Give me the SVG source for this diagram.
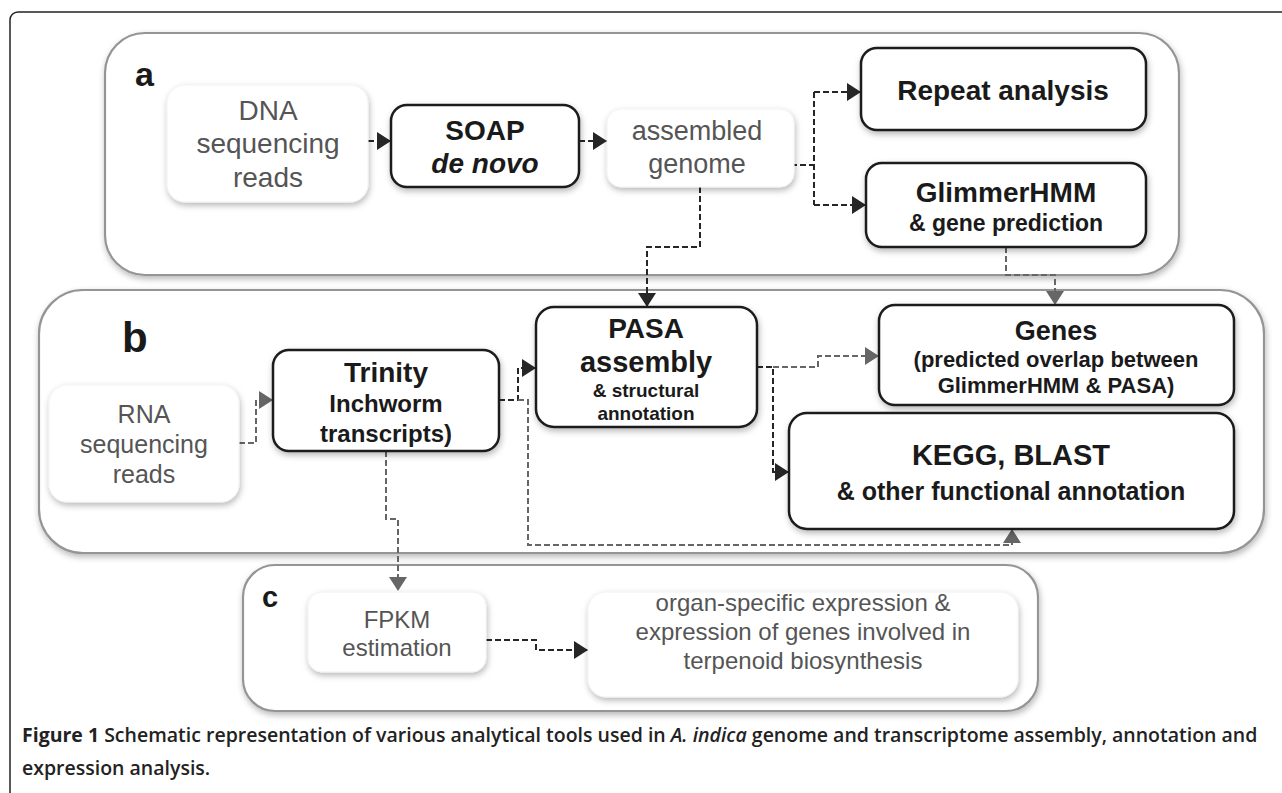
<svg xmlns="http://www.w3.org/2000/svg" width="1282" height="793" viewBox="0 0 1282 793">
  <defs>
    <filter id="shadow" x="-10%" y="-10%" width="130%" height="140%">
      <feDropShadow dx="1" dy="3" stdDeviation="3" flood-color="#000" flood-opacity="0.28"/>
    </filter>
    <marker id="arrowDark" viewBox="0 0 14 18" refX="14" refY="9" markerWidth="14" markerHeight="18" markerUnits="userSpaceOnUse" orient="auto">
      <path d="M0,0 L14,9 L0,18 z" fill="#262626"/>
    </marker>
    <marker id="arrowGray" viewBox="0 0 14 18" refX="14" refY="9" markerWidth="14" markerHeight="18" markerUnits="userSpaceOnUse" orient="auto">
      <path d="M0,0 L14,9 L0,18 z" fill="#666"/>
    </marker>
  </defs>
  <style>
    .frame { fill: #fff; stroke: #222; stroke-width: 1.5; }
    .panel { fill: #fff; stroke: #959595; stroke-width: 2.2; }
    .soft { fill: #fff; stroke: #f2f2f2; stroke-width: 1; }
    .hard { fill: #fff; stroke: #1a1a1a; stroke-width: 2.5; }
    .lt { font-family: "Liberation Sans", Arial, sans-serif; fill: #555; text-anchor: middle; }
    .bt { font-family: "Liberation Sans", Arial, sans-serif; font-weight: bold; fill: #1a1a1a; text-anchor: middle; }
    .lbl { font-family: "Liberation Sans", Arial, sans-serif; font-weight: bold; fill: #1a1a1a; }
    .dk { fill: none; stroke: #262626; stroke-width: 2; stroke-dasharray: 6 3; }
    .gy { fill: none; stroke: #666; stroke-width: 2; stroke-dasharray: 6 3; }
    .cap { font-family: "Open Sans", "Liberation Sans", sans-serif; font-size: 19.5px; font-weight: 600; fill: #222; }
  </style>

  <rect width="1282" height="793" fill="#fff"/>
  <rect class="frame" x="10" y="12" width="1290" height="800" rx="8"/>

  <!-- section panels -->
  <g id="panel-a">
    <rect class="panel" x="105" y="33" width="1074" height="242" rx="40" filter="url(#shadow)"/>
    <text class="lbl" x="135" y="86" font-size="34">a</text>
  </g>
  <g id="panel-b">
    <rect class="panel" x="39" y="290" width="1225" height="263" rx="44" filter="url(#shadow)"/>
    <text class="lbl" x="122" y="352" font-size="42">b</text>
  </g>
  <g id="panel-c">
    <rect class="panel" x="243" y="565" width="795" height="146" rx="32" filter="url(#shadow)"/>
    <text class="lbl" x="262" y="607" font-size="29">c</text>
  </g>

  <!-- connectors -->
  <g id="connectors">
    <path class="dk" d="M368,141 L391,141" marker-end="url(#arrowDark)"/>
    <path class="dk" d="M579,141 L607,141" marker-end="url(#arrowDark)"/>
    <path class="dk" d="M764,165 L814,165 M814,92 L814,205"/>
    <path class="dk" d="M814,92 L861,92" marker-end="url(#arrowDark)"/>
    <path class="dk" d="M814,205 L866,205" marker-end="url(#arrowDark)"/>
    <path class="dk" d="M700,187 L700,247 L647,247 L647,307" marker-end="url(#arrowDark)"/>
    <path class="gy" d="M1006,247 L1006,275 L1055,275 L1055,305" marker-end="url(#arrowGray)"/>
    <path class="gy" d="M239,443 L256,443 L256,400 L273,400" marker-end="url(#arrowGray)"/>
    <path class="dk" d="M499,400 L518,400 L518,368 L536,368" marker-end="url(#arrowDark)"/>
    <path class="gy" d="M518,400 L528,400 L528,545 L1012,545 L1012,529" marker-end="url(#arrowGray)"/>
    <path class="gy" d="M386,451 L386,519 L398,519 L398,591" marker-end="url(#arrowGray)"/>
    <path class="gy" d="M773,367 L818,367 L818,356 L879,356" marker-end="url(#arrowGray)"/>
    <path class="dk" d="M757,367 L773,367 L773,472 L789,472" marker-end="url(#arrowDark)"/>
    <path class="dk" d="M486,640 L536,640 L536,650 L588,650" marker-end="url(#arrowDark)"/>
  </g>

  <!-- section a nodes -->
  <g id="dna-reads">
    <rect class="soft" x="167" y="85" width="201" height="117" rx="18" filter="url(#shadow)"/>
    <text class="lt" font-size="28"><tspan x="268" y="120">DNA</tspan><tspan x="268" y="153">sequencing</tspan><tspan x="268" y="187">reads</tspan></text>
  </g>
  <g id="soap">
    <rect class="hard" x="391" y="105" width="188" height="82" rx="16" filter="url(#shadow)"/>
    <text class="bt" font-size="28"><tspan x="485" y="140">SOAP</tspan><tspan x="485" y="173" font-style="italic">de novo</tspan></text>
  </g>
  <g id="assembled-genome">
    <rect class="soft" x="607" y="109" width="187" height="78" rx="14" filter="url(#shadow)"/>
    <text class="lt" font-size="27"><tspan x="697" y="140">assembled</tspan><tspan x="697" y="173">genome</tspan></text>
  </g>
  <g id="repeat-analysis">
    <rect class="hard" x="861" y="48" width="285" height="82" rx="16" filter="url(#shadow)"/>
    <text class="bt" x="1003" y="100" font-size="28">Repeat analysis</text>
  </g>
  <g id="glimmerhmm">
    <rect class="hard" x="866" y="163" width="280" height="84" rx="16" filter="url(#shadow)"/>
    <text class="bt"><tspan x="1006" y="202" font-size="28">GlimmerHMM</tspan><tspan x="1006" y="231" font-size="23">&amp; gene prediction</tspan></text>
  </g>

  <!-- section b nodes -->
  <g id="rna-reads">
    <rect class="soft" x="49" y="385" width="190" height="117" rx="18" filter="url(#shadow)"/>
    <text class="lt" font-size="25"><tspan x="144" y="423">RNA</tspan><tspan x="144" y="453">sequencing</tspan><tspan x="144" y="483">reads</tspan></text>
  </g>
  <g id="trinity">
    <rect class="hard" x="273" y="350" width="226" height="101" rx="16" filter="url(#shadow)"/>
    <text class="bt"><tspan x="386" y="382" font-size="28">Trinity</tspan><tspan x="386" y="412" font-size="24">Inchworm</tspan><tspan x="386" y="442" font-size="24">transcripts)</tspan></text>
  </g>
  <g id="pasa">
    <rect class="hard" x="536" y="307" width="221" height="120" rx="18" filter="url(#shadow)"/>
    <text class="bt"><tspan x="646" y="338" font-size="28">PASA</tspan><tspan x="646" y="372" font-size="29">assembly</tspan><tspan x="646" y="397" font-size="19">&amp; structural</tspan><tspan x="646" y="420" font-size="19">annotation</tspan></text>
  </g>
  <g id="genes">
    <rect class="hard" x="879" y="305" width="355" height="100" rx="16" filter="url(#shadow)"/>
    <text class="bt"><tspan x="1056" y="340" font-size="27">Genes</tspan><tspan x="1056" y="367" font-size="22">(predicted overlap between</tspan><tspan x="1056" y="393" font-size="22">GlimmerHMM &amp; PASA)</tspan></text>
  </g>
  <g id="kegg-blast">
    <rect class="hard" x="789" y="413" width="445" height="116" rx="18" filter="url(#shadow)"/>
    <text class="bt"><tspan x="1011" y="465" font-size="29">KEGG, BLAST</tspan><tspan x="1011" y="500" font-size="25">&amp; other functional annotation</tspan></text>
  </g>

  <!-- section c nodes -->
  <g id="fpkm">
    <rect class="soft" x="308" y="592" width="178" height="80" rx="14" filter="url(#shadow)"/>
    <text class="lt" font-size="24"><tspan x="397" y="628">FPKM</tspan><tspan x="397" y="656">estimation</tspan></text>
  </g>
  <g id="organ-expression">
    <rect class="soft" x="588" y="592" width="430" height="105" rx="18" filter="url(#shadow)"/>
    <text class="lt" font-size="24"><tspan x="803" y="611">organ-specific expression &amp;</tspan><tspan x="803" y="640">expression of genes involved in</tspan><tspan x="803" y="669">terpenoid biosynthesis</tspan></text>
  </g>

  <!-- caption -->
  <text class="cap" x="22" y="742"><tspan font-weight="bold">Figure 1</tspan> Schematic representation of various analytical tools used in <tspan font-style="italic">A. indica</tspan> genome and transcriptome assembly, annotation and</text>
  <text class="cap" x="22" y="775">expression analysis.</text>
</svg>
